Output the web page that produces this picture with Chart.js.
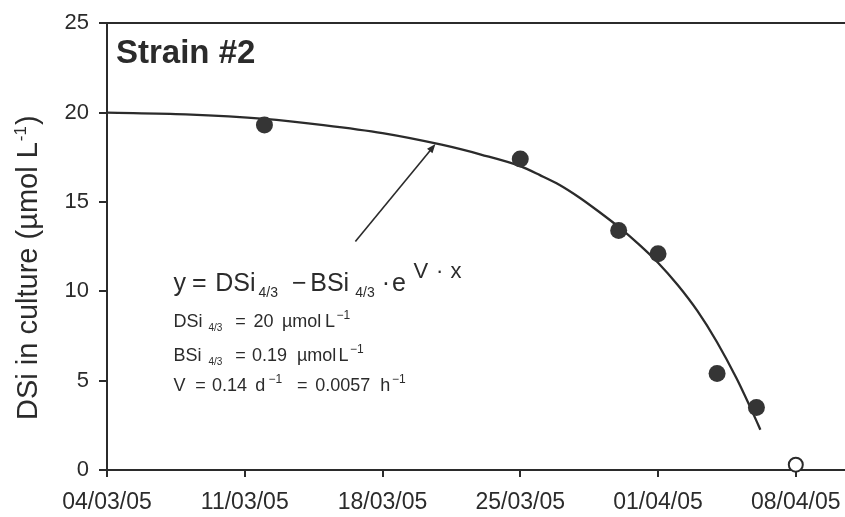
<!DOCTYPE html>
<html>
<head>
<meta charset="utf-8">
<script src="https://cdn.jsdelivr.net/npm/chart.js@4.4.0/dist/chart.umd.min.js"></script>
<style>
html, body { margin: 0; padding: 0; background: #fff; }
</style>
</head>
<body>
<canvas id="myChart" width="845" height="517"></canvas>
<script>

// days counted from 04/03/05
var sampleDays = [8, 21, 26, 28, 31, 33];
var sampleDSi = [19.3, 17.4, 13.4, 12.1, 5.4, 3.5];

// last sample, below detection (open symbol)
var lastDays = [35];
var lastDSi = [0.3];

// fitted curve read along its length
var fitDays = [0, 4, 8, 11, 14, 17, 19, 21, 22, 23, 24, 25, 26, 27, 28, 29, 30, 31, 32, 33, 33.2];
var fitDSi = [20.0, 19.9, 19.65, 19.3, 18.85, 18.2, 17.65, 17.0, 16.5, 15.95, 15.25, 14.45, 13.6, 12.65, 11.6, 10.35, 8.9, 7.15, 5.1, 2.75, 2.25];

var dateLabels = ['04/03/05', '11/03/05', '18/03/05', '25/03/05', '01/04/05', '08/04/05'];
var yTicks = [0, 5, 10, 15, 20, 25];

// arrow pointing at the curve (day, DSi)
var arrowFrom = [12.62, 12.78];
var arrowTo = [16.69, 18.24];

var FONT = '"Liberation Sans", Arial, Helvetica, sans-serif';
var INK = '#2b2b2b';

function points(xs, ys){
	return xs.map(function(d, i){ return {x: d, y: ys[i]}; });
}

// draws a row of text pieces, each at its own x offset / size / baseline shift
function drawRuns(ctx, x0, y0, size, runs){
	runs.forEach(function(r){
		ctx.font = (r.size || size) + 'px ' + FONT;
		ctx.fillText(r.t, x0 + r.x, y0 + (r.dy || 0));
	});
}

var annotations = {
	id: 'annotations',
	afterDraw: function(chart){
		var ctx = chart.ctx;
		var area = chart.chartArea;
		var xs = chart.scales.x;
		var ys = chart.scales.y;

		ctx.save();
		ctx.fillStyle = INK;
		ctx.strokeStyle = INK;
		ctx.textAlign = 'left';
		ctx.textBaseline = 'alphabetic';

		// panel title
		ctx.font = 'bold 33px ' + FONT;
		ctx.fillText('Strain #2', area.left + 9, area.top + 40);

		// y axis title, rotated, with superscript
		ctx.save();
		ctx.translate(36.5, 420);
		ctx.rotate(-Math.PI / 2);
		ctx.font = '29px ' + FONT;
		var main = 'DSi in culture (\u00b5mol L';
		var w = ctx.measureText(main).width;
		ctx.fillText(main, 0, 0);
		ctx.font = '17px ' + FONT;
		ctx.fillText('-1', w + 1, -11);
		var w2 = ctx.measureText('-1').width;
		ctx.font = '29px ' + FONT;
		ctx.fillText(')', w + w2 + 2, 0);
		ctx.restore();

		// arrow
		var ax = xs.getPixelForValue(arrowFrom[0]);
		var ay = ys.getPixelForValue(arrowFrom[1]);
		var bx = xs.getPixelForValue(arrowTo[0]);
		var by = ys.getPixelForValue(arrowTo[1]);
		var ang = Math.atan2(by - ay, bx - ax);
		ctx.lineWidth = 1.6;
		ctx.beginPath();
		ctx.moveTo(ax, ay);
		ctx.lineTo(bx - 6 * Math.cos(ang), by - 6 * Math.sin(ang));
		ctx.stroke();
		ctx.beginPath();
		ctx.moveTo(bx, by);
		ctx.lineTo(bx - 9 * Math.cos(ang) + 3.5 * Math.sin(ang), by - 9 * Math.sin(ang) - 3.5 * Math.cos(ang));
		ctx.lineTo(bx - 9 * Math.cos(ang) - 3.5 * Math.sin(ang), by - 9 * Math.sin(ang) + 3.5 * Math.cos(ang));
		ctx.closePath();
		ctx.fill();

		// fit equation and parameters
		var ex = xs.getPixelForValue(3.38);
		var ey = ys.getPixelForValue(10.0);
		drawRuns(ctx, ex, ey, 25, [
			{t: 'y', x: 0},
			{t: '=', x: 18.4},
			{t: 'DSi', x: 41.7},
			{t: '4/3', size: 14, x: 85, dy: 6},
			{t: '\u2212', x: 118.4},
			{t: 'BSi', x: 136.7},
			{t: '4/3', size: 14, x: 181.7, dy: 6},
			{t: '\u00b7', x: 208.2},
			{t: 'e', x: 218.4},
			{t: 'V', size: 22, x: 240, dy: -13.3},
			{t: '\u00b7', size: 22, x: 262.5, dy: -13.3},
			{t: 'x', size: 22, x: 277, dy: -13.3}
		]);
		drawRuns(ctx, ex, ey + 36, 18, [
			{t: 'DSi', x: 0},
			{t: '4/3', size: 10, x: 35, dy: 4},
			{t: '=', x: 61.7},
			{t: '20', x: 80},
			{t: '\u00b5mol', x: 108.4},
			{t: 'L', x: 151.5},
			{t: '\u2212', size: 12, x: 163, dy: -8},
			{t: '1', size: 12, x: 170, dy: -8}
		]);
		drawRuns(ctx, ex, ey + 69.3, 18, [
			{t: 'BSi', x: 0},
			{t: '4/3', size: 10, x: 35, dy: 4},
			{t: '=', x: 61.7},
			{t: '0.19', x: 78.4},
			{t: '\u00b5mol', x: 123.4},
			{t: 'L', x: 165},
			{t: '\u2212', size: 12, x: 176.5, dy: -8},
			{t: '1', size: 12, x: 183.5, dy: -8}
		]);
		drawRuns(ctx, ex, ey + 100, 18, [
			{t: 'V', x: 0},
			{t: '=', x: 21.7},
			{t: '0.14', x: 38.4},
			{t: 'd', x: 81.7},
			{t: '\u2212', size: 12, x: 95, dy: -8},
			{t: '1', size: 12, x: 102, dy: -8},
			{t: '=', x: 123.4},
			{t: '0.0057', x: 141.7},
			{t: 'h', x: 206.7},
			{t: '\u2212', size: 12, x: 218.4, dy: -8},
			{t: '1', size: 12, x: 225.4, dy: -8}
		]);

		ctx.restore();
	}
};

var ctx = document.getElementById('myChart').getContext('2d');
var chart = new Chart(ctx, {
	type: 'scatter',
	data: {
		datasets: [{
			label: 'fit',
			type: 'line',
			data: points(fitDays, fitDSi),
			borderColor: INK,
			borderWidth: 2.3,
			pointRadius: 0,
			cubicInterpolationMode: 'monotone',
			fill: false,
			clip: false,
			order: 3
		}, {
			label: 'DSi',
			data: points(sampleDays, sampleDSi),
			pointRadius: 8.5,
			backgroundColor: '#353535',
			borderColor: '#353535',
			borderWidth: 0,
			clip: false,
			order: 1
		}, {
			label: 'DSi below',
			data: points(lastDays, lastDSi),
			pointRadius: 7,
			backgroundColor: '#fff',
			borderColor: INK,
			borderWidth: 2,
			clip: false,
			order: 2
		}]
	},
	options: {
		responsive: false,
		animation: false,
		layout: { autoPadding: false, padding: { top: 20, right: 0, bottom: 0, left: 0 } },
		plugins: {
			legend: { display: false },
			tooltip: { enabled: false }
		},
		scales: {
			x: {
				type: 'linear',
				position: 'bottom',
				min: 0,
				max: 37.5,
				afterBuildTicks: function(s){
					s.ticks = dateLabels.map(function(l, i){ return {value: i * 7}; });
				},
				afterFit: function(s){
					s.height = 47;
					s.paddingLeft = 0;
					s.paddingRight = 0;
				},
				ticks: {
					autoSkip: false,
					maxRotation: 0,
					padding: 12,
					color: INK,
					font: { family: FONT, size: 23 },
					callback: function(v){ return dateLabels[Math.round(v / 7)]; }
				},
				grid: { drawOnChartArea: false, tickLength: 7, color: INK, lineWidth: 2 },
				border: { color: INK, width: 2 }
			},
			x2: {
				type: 'linear',
				axis: 'x',
				position: 'top',
				min: 0,
				max: 37.5,
				afterFit: function(s){
					s.height = 0;
					s.paddingLeft = 0;
					s.paddingRight = 0;
				},
				ticks: { display: false },
				grid: { display: false },
				border: { color: INK, width: 2 }
			},
			y: {
				min: 0,
				max: 25,
				afterBuildTicks: function(s){
					s.ticks = yTicks.map(function(v){ return {value: v}; });
				},
				afterFit: function(s){ s.width = 107; },
				ticks: {
					padding: 10,
					color: INK,
					font: { family: FONT, size: 22 }
				},
				grid: { drawOnChartArea: false, tickLength: 8, color: INK, lineWidth: 2 },
				border: { color: INK, width: 2 }
			}
		}
	},
	plugins: [annotations]
});

</script>
</body>
</html>
